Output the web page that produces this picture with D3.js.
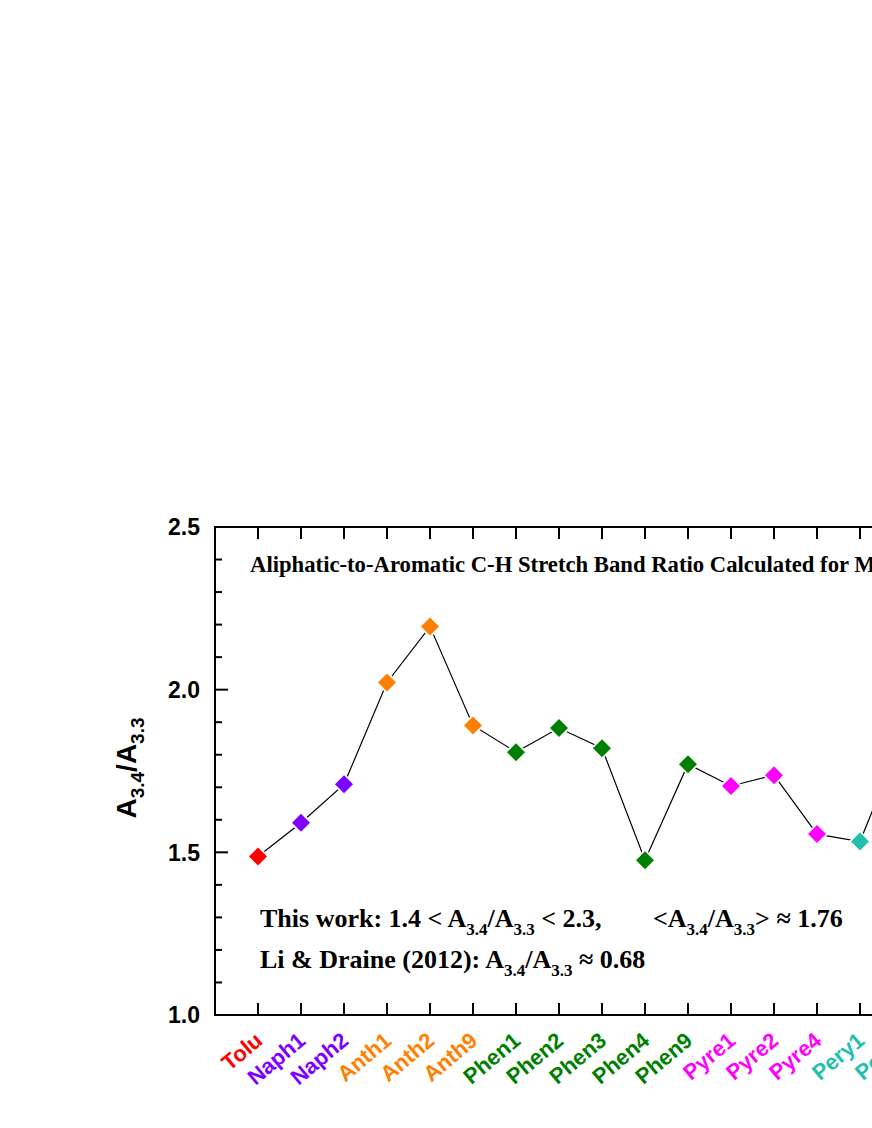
<!DOCTYPE html>
<html><head><meta charset="utf-8">
<script src="https://cdn.jsdelivr.net/npm/d3@7"></script>
<style>body{margin:0;background:#fff}svg{display:block}</style>
</head><body>
<script>
const categories = ["Tolu","Naph1","Naph2","Anth1","Anth2","Anth9","Phen1","Phen2","Phen3","Phen4","Phen9","Pyre1","Pyre2","Pyre4","Pery1","Pery2"];
const ratios = [1.487,1.591,1.709,2.022,2.194,1.890,1.808,1.882,1.820,1.476,1.771,1.704,1.737,1.556,1.533,1.86];
const groupColors = {Tolu:"#FF0000",Naph:"#7F00FF",Anth:"#FF8000",Phen:"#008000",Pyre:"#FF00FF",Pery:"#22BFAE"};
const yTicks = [1.0,1.5,2.0,2.5];
const yMinorTicks = [1.1,1.2,1.3,1.4,1.6,1.7,1.8,1.9,2.1,2.2,2.3,2.4];

const W=872,H=1128;
const svg=d3.select("body").append("svg").attr("width",W).attr("height",H);
const x=d3.scaleLinear().domain([-1,20]).range([215,215+43*21]);
const y=d3.scaleLinear().domain([1.0,2.5]).range([1015,527]);
const colorOf=c=>groupColors[c.slice(0,4)];
const sans="'Liberation Sans',Arial,sans-serif", serif="'Liberation Serif','Times New Roman',serif";

// frame
const g=svg.append("g");
g.append("line").attr("x1",x(-1)).attr("x2",W+5).attr("y1",y(1.0)).attr("y2",y(1.0)).attr("stroke","#000").attr("stroke-width",2);
g.append("line").attr("x1",x(-1)).attr("x2",W+5).attr("y1",y(2.5)).attr("y2",y(2.5)).attr("stroke","#000").attr("stroke-width",2);
g.append("line").attr("x1",x(-1)).attr("x2",x(-1)).attr("y1",y(2.5)-1).attr("y2",y(1.0)+1).attr("stroke","#000").attr("stroke-width",2);

// y ticks (inward)
yTicks.forEach(v=>{
  g.append("line").attr("x1",x(-1)).attr("x2",x(-1)+13).attr("y1",y(v)).attr("y2",y(v)).attr("stroke","#000").attr("stroke-width",2);
  g.append("text").attr("x",200).attr("y",y(v)).attr("dy","0.36em").attr("text-anchor","end")
   .attr("font-family",sans).attr("font-weight","bold").attr("font-size",23).text(d3.format(".1f")(v));
});
yMinorTicks.forEach(v=>{
  g.append("line").attr("x1",x(-1)).attr("x2",x(-1)+7).attr("y1",y(v)).attr("y2",y(v)).attr("stroke","#000").attr("stroke-width",2);
});
// x ticks top and bottom
categories.forEach((c,i)=>{
  g.append("line").attr("x1",x(i)).attr("x2",x(i)).attr("y1",y(1.0)).attr("y2",y(1.0)-12).attr("stroke","#000").attr("stroke-width",2);
  g.append("line").attr("x1",x(i)).attr("x2",x(i)).attr("y1",y(2.5)).attr("y2",y(2.5)+12).attr("stroke","#000").attr("stroke-width",2);
  g.append("text").attr("transform",`translate(${x(i)-4},${y(1.0)+16}) rotate(-40)`)
   .attr("text-anchor","end").attr("dy","0.7em")
   .attr("font-family",sans).attr("font-weight","bold").attr("font-size",22)
   .attr("fill",colorOf(c)).text(c);
});

// line
svg.append("path").datum(ratios).attr("fill","none").attr("stroke","#000").attr("stroke-width",1.2)
  .attr("d",d3.line().x((d,i)=>x(i)).y(d=>y(d)));
// markers
const sym=d3.symbol(d3.symbolSquare,162), symBg=d3.symbol(d3.symbolSquare,260);
ratios.forEach((v,i)=>{
  svg.append("path").attr("d",symBg()).attr("transform",`translate(${x(i)},${y(v)}) rotate(45)`).attr("fill","#fff");
  svg.append("path").attr("d",sym()).attr("transform",`translate(${x(i)},${y(v)}) rotate(45)`).attr("fill",colorOf(categories[i]));
});

// y axis title
const yt=svg.append("text").attr("transform","translate(136,768) rotate(-90)").attr("text-anchor","middle")
  .attr("font-family",sans).attr("font-weight","bold").attr("font-size",28);
yt.append("tspan").text("A");
yt.append("tspan").attr("font-size",19).attr("dy",8).text("3.4");
yt.append("tspan").attr("dy",-8).text("/A");
yt.append("tspan").attr("font-size",19).attr("dy",8).text("3.3");

// title
svg.append("text").attr("x",250).attr("y",572).attr("font-family",serif).attr("font-weight","bold").attr("font-size",22.7)
  .text("Aliphatic-to-Aromatic C-H Stretch Band Ratio Calculated for Methylated PAHs");

function ratioText(parent, parts){
  parts.forEach(p=>{
    const t=parent.append("tspan");
    if(p.sub){t.attr("font-size",17).attr("dy",8).text(p.sub);}
    else {t.attr("dy",p.up?-8:0).text(p.t);}
  });
}
const t1=svg.append("text").attr("x",260).attr("y",927).attr("font-family",serif).attr("font-weight","bold").attr("font-size",26);
ratioText(t1,[{t:"This work: 1.4 < A"},{sub:"3.4"},{t:"/A",up:1},{sub:"3.3"},{t:" < 2.3,",up:1}]);
const t1b=svg.append("text").attr("x",653).attr("y",927).attr("font-family",serif).attr("font-weight","bold").attr("font-size",26);
ratioText(t1b,[{t:"<A"},{sub:"3.4"},{t:"/A",up:1},{sub:"3.3"},{t:">  \u2248  1.76",up:1}]);
const t2=svg.append("text").attr("x",260).attr("y",968).attr("font-family",serif).attr("font-weight","bold").attr("font-size",26);
ratioText(t2,[{t:"Li & Draine (2012): A"},{sub:"3.4"},{t:"/A",up:1},{sub:"3.3"},{t:" \u2248  0.68",up:1}]);
</script>
</body></html>
